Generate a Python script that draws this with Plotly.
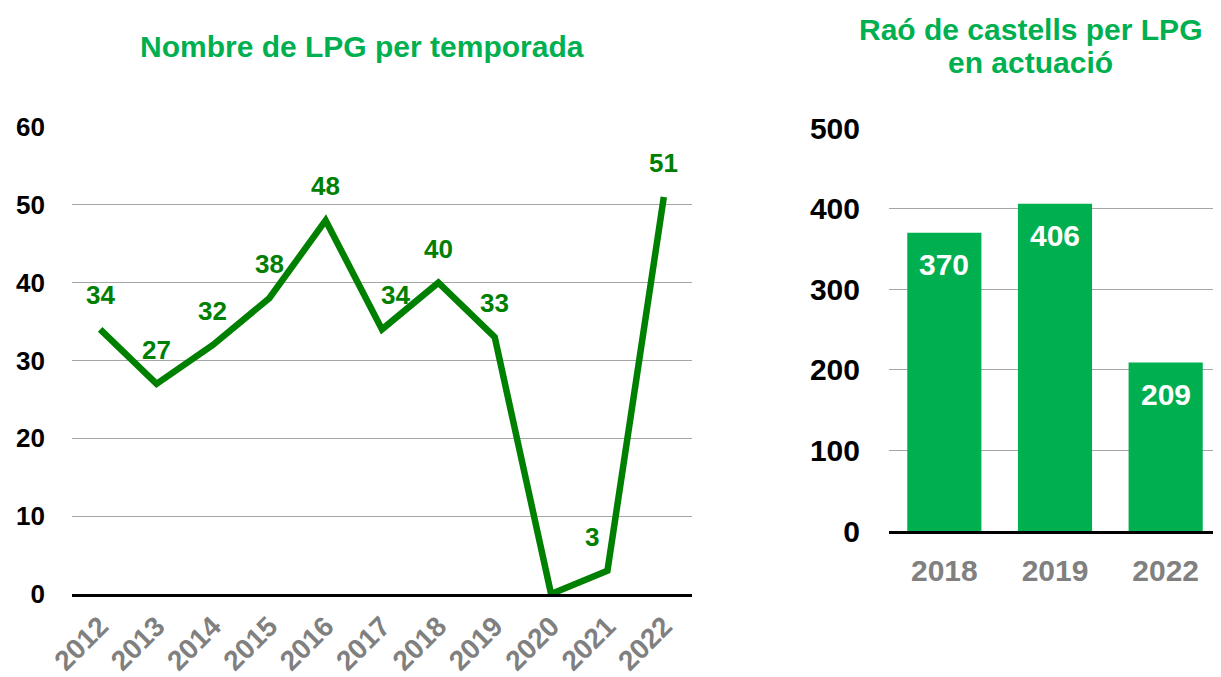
import plotly.graph_objects as go

# ---- data ----
years = ["2012", "2013", "2014", "2015", "2016", "2017", "2018", "2019", "2020", "2021", "2022"]
lpg_count = [34, 27, 32, 38, 48, 34, 40, 33, 0, 3, 51]
lpg_labels = ["34", "27", "32", "38", "48", "34", "40", "33", "", "3", "51"]

bar_years = ["2018", "2019", "2022"]
ratio = [370, 406, 209]

title_left = "Nombre de LPG per temporada"
title_right_1 = "Raó de castells per LPG"
title_right_2 = "en actuació"

# ---- style ----
PAGE_OFFSET = 8            # default body margin of the html page
W, H = 1221 - PAGE_OFFSET, 677 - PAGE_OFFSET
LINE_GREEN = "#008000"
BAR_GREEN = "#00B050"
GRID = "#A6A6A6"
FONT = "Liberation Sans, Arial, sans-serif"
TITLE_FONT = "Liberation Sans, Arial, sans-serif"
label_xshift = {"2017": 13, "2021": -15}

def fx(px):
    return (px - PAGE_OFFSET) / W

def fy(py):
    return 1 - (py - PAGE_OFFSET) / H

fig = go.Figure()

fig.add_trace(go.Scatter(
    x=years, y=lpg_count, mode="lines",
    line=dict(color=LINE_GREEN, width=6.5),
    xaxis="x", yaxis="y", showlegend=False, hoverinfo="x+y",
))

fig.add_trace(go.Bar(
    x=bar_years, y=ratio, marker=dict(color=BAR_GREEN, line=dict(width=0)),
    width=0.67, xaxis="x2", yaxis="y2", showlegend=False,
))

annotations = []
# category axes: annotation x given as category index
for i, (yr, v, t) in enumerate(zip(years, lpg_count, lpg_labels)):
    if t:
        annotations.append(dict(
            x=i, y=v, xref="x", yref="y", text=t, showarrow=False,
            yshift=34, xshift=label_xshift.get(yr, 0),
            font=dict(family=FONT, size=26, color=LINE_GREEN, weight="bold"),
        ))
for i, v in enumerate(ratio):
    annotations.append(dict(
        x=i, y=v, xref="x2", yref="y2", text=str(v), showarrow=False,
        yshift=-32,
        font=dict(family=FONT, size=30, color="white", weight="bold"),
    ))

annotations.append(dict(
    x=fx(362), y=fy(47), xref="paper", yref="paper", text=title_left,
    showarrow=False, xanchor="center", yanchor="middle",
    font=dict(family=TITLE_FONT, size=30, color=BAR_GREEN, weight="bold"),
))
annotations.append(dict(
    x=fx(1030), y=fy(30), xref="paper", yref="paper", text=title_right_1,
    showarrow=False, xanchor="center", yanchor="middle",
    font=dict(family=TITLE_FONT, size=30, color=BAR_GREEN, weight="bold"),
))
annotations.append(dict(
    x=fx(1030), y=fy(63), xref="paper", yref="paper", text=title_right_2,
    showarrow=False, xanchor="center", yanchor="middle",
    font=dict(family=TITLE_FONT, size=30, color=BAR_GREEN, weight="bold"),
))

fig.update_layout(
    width=W, height=H,
    margin=dict(l=0, r=0, t=0, b=0, autoexpand=False),
    paper_bgcolor="white", plot_bgcolor="white",
    bargap=0.33,
    annotations=annotations,
    xaxis=dict(
        domain=[fx(72), fx(692)], type="category",
        range=[-0.5, len(years) - 0.5], automargin=False,
        showgrid=False, zeroline=False,
        showline=True, linecolor="black", linewidth=2.5,
        tickangle=-45, ticks="", ticklabelstandoff=2,
        tickfont=dict(family=FONT, size=28, color="#808080", weight="bold"),
    ),
    yaxis=dict(
        domain=[fy(594), fy(127)], range=[0, 60], automargin=False,
        tickvals=[0, 10, 20, 30, 40, 50, 60],
        showgrid=True, gridcolor=GRID, gridwidth=1.3,
        zeroline=False, showline=False, ticks="", ticklabelstandoff=26,
        tickfont=dict(family=FONT, size=26, color="black", weight="bold"),
    ),
    xaxis2=dict(
        domain=[fx(889), 1.0], type="category", anchor="y2",
        range=[-0.5, len(bar_years) - 0.5], automargin=False,
        showgrid=False, zeroline=False,
        showline=True, linecolor="black", linewidth=2.5,
        ticks="", ticklabelstandoff=11,
        tickfont=dict(family=FONT, size=30, color="#808080", weight="bold"),
    ),
    yaxis2=dict(
        domain=[fy(531), fy(128)], range=[0, 500], anchor="x2", automargin=False,
        tickvals=[0, 100, 200, 300, 400, 500],
        showgrid=True, gridcolor=GRID, gridwidth=1.3,
        zeroline=False, showline=False, ticks="", ticklabelstandoff=28,
        tickfont=dict(family=FONT, size=30, color="black", weight="bold"),
    ),
)

fig.write_html("out.html")
